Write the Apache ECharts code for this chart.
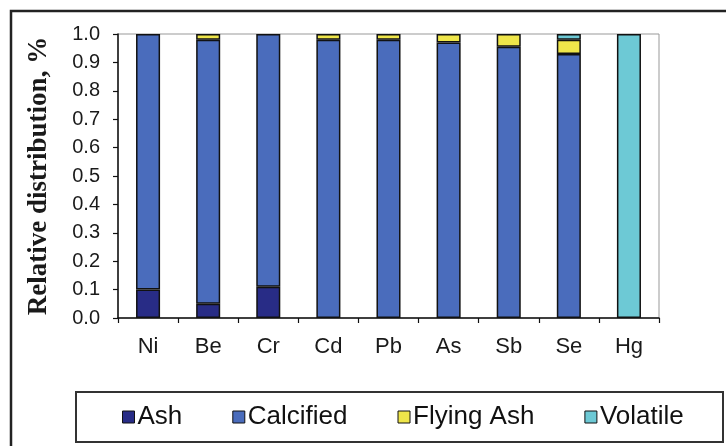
<!DOCTYPE html>
<html>
<head>
<meta charset="utf-8">
<script src="https://cdn.jsdelivr.net/npm/echarts@6/dist/echarts.min.js"></script>
<style>
html,body{margin:0;padding:0;background:#fff;}
#chart{width:726px;height:446px;}
</style>
</head>
<body>
<div id="chart"></div>
<script>
var categories = ['Ni','Be','Cr','Cd','Pb','As','Sb','Se','Hg'];
var ash        = [0.10, 0.05, 0.11, 0, 0, 0, 0, 0, 0];
var calcified  = [0.90, 0.93, 0.89, 0.98, 0.98, 0.97, 0.955, 0.93, 0];
var flyingAsh  = [0, 0.02, 0, 0.02, 0.02, 0.03, 0.045, 0.05, 0];
var volatile   = [0, 0, 0, 0, 0, 0, 0, 0.02, 1.0];
var yTicks     = ['0.0','0.1','0.2','0.3','0.4','0.5','0.6','0.7','0.8','0.9','1.0'];

var seriesNames = ['Ash','Calcified','Flying Ash','Volatile'];
var seriesData = [ash, calcified, flyingAsh, volatile];
var colors = ['#282c86','#4a6cbc','#efe64a','#6dc9d5'];

function prep(arr){ return arr.map(function(v){ return v === 0 ? '-' : v; }); }

var chart = echarts.init(document.getElementById('chart'), null, {renderer:'canvas'});
var option = {
  animation: false,
  backgroundColor: '#fff',
  graphic: [
    {type:'rect', shape:{x:11, y:11, width:800, height:600}, style:{fill:'none', stroke:'#222', lineWidth:2.5}, z:-1},
    {type:'rect', shape:{x:76, y:392, width:647, height:50}, style:{fill:'none', stroke:'#333', lineWidth:2}, z:-1}
  ],
  grid: {left:118, top:34, right:67, bottom:128, show:true, borderColor:'#999', borderWidth:1},
  legend: {
    data: seriesNames,
    left: 122, top: 404, padding: 0,
    itemGap: 50, itemWidth: 12, itemHeight: 12, icon: 'rect',
    itemStyle: {borderColor:'#111', borderWidth:1},
    textStyle: {fontFamily:'Liberation Sans, Arial, sans-serif', fontSize:26, color:'#111', padding:[0,0,0,-2]}
  },
  xAxis: {
    type:'category', data: categories,
    axisLine: {lineStyle:{color:'#111', width:1.5}},
    axisTick: {show:true, length:5, lineStyle:{color:'#111', width:1.2}},
    axisLabel: {fontFamily:'Liberation Sans, Arial, sans-serif', fontSize:22, color:'#1a1a1a', margin:18}
  },
  yAxis: {
    type:'value', min:0, max:1, interval:0.1,
    name: 'Relative distribution, %',
    nameLocation:'middle', nameGap:65, nameRotate:90,
    nameTextStyle: {fontFamily:'Liberation Serif, Times New Roman, serif', fontWeight:'bold', fontSize:27, color:'#1a1a1a'},
    axisLine: {show:true, lineStyle:{color:'#111', width:1.5}},
    axisTick: {show:true, length:5, lineStyle:{color:'#111', width:1.2}},
    splitLine: {show:false},
    axisLabel: {fontFamily:'Liberation Sans, Arial, sans-serif', fontSize:20, color:'#1a1a1a', margin:18,
      formatter: function(v){ return yTicks[Math.round(v*10)]; }}
  },
  series: seriesNames.map(function(n, i){
    return {
      name: n, type:'bar', stack:'total', barWidth:'40%',
      data: prep(seriesData[i]),
      itemStyle: {color: colors[i], borderColor:'#111', borderWidth:1.5}
    };
  })
};
chart.setOption(option);
</script>
</body>
</html>
